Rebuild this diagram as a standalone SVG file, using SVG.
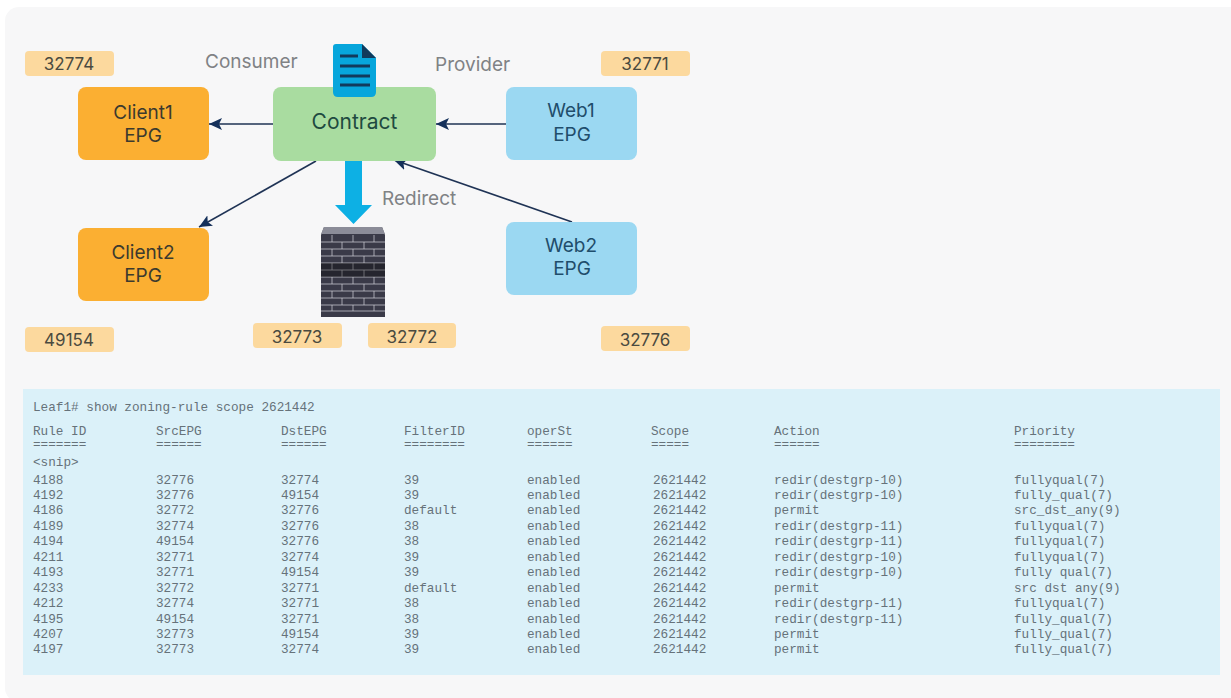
<svg xmlns="http://www.w3.org/2000/svg" width="1231" height="698" viewBox="0 0 1231 698">
<style>
.box{stroke:none}
.or{fill:#fbaf32}
.bl{fill:#9bd8f2}
.tag{fill:#fcd99e}
.sans{font-family:"Inter","Liberation Sans",sans-serif}
.n{font-size:19px;text-anchor:middle;fill:#3c3a2e}
.nb{font-size:19px;text-anchor:middle;fill:#1f4d6b}
.t{font-size:17px;text-anchor:middle;fill:#4a4a40}
.l{font-size:19px;fill:#808285}
.m{font-family:"Liberation Mono",monospace;font-size:12.7px;fill:#66727a}
.ln{stroke:#1f3355;stroke-width:1.6;fill:none;marker-end:url(#a)}
</style>
<defs>
<marker id="a" markerUnits="userSpaceOnUse" markerWidth="14" markerHeight="12" refX="13" refY="6" orient="auto"><path d="M0,0L13,6L0,12L3,6Z" fill="#14305a"/></marker>
</defs>
<rect width="1231" height="698" fill="#ffffff"/>
<rect x="5" y="7" width="1240" height="695" rx="14" fill="#f7f7f8"/>
<g id="table">
<rect x="23" y="389" width="1197" height="286" fill="#dbf1f9"/>
<text class="m" x="33" y="410.500">Leaf1# show zoning-rule scope 2621442</text>
<g class="m">
<text x="33" y="435">Rule ID</text><text x="156" y="435">SrcEPG</text><text x="281" y="435">DstEPG</text><text x="404" y="435">FilterID</text><text x="527" y="435">operSt</text><text x="651" y="435">Scope</text><text x="774" y="435">Action</text><text x="1014" y="435">Priority</text>
<text x="33" y="448">=======</text><text x="156" y="448">======</text><text x="281" y="448">======</text><text x="404" y="448">========</text><text x="527" y="448">======</text><text x="651" y="448">=====</text><text x="774" y="448">======</text><text x="1014" y="448">========</text>
<text x="33" y="466">&lt;snip&gt;</text>
<text x="33" y="484">4188</text><text x="156" y="484">32776</text><text x="281" y="484">32774</text><text x="404" y="484">39</text><text x="527" y="484">enabled</text><text x="653" y="484">2621442</text><text x="774" y="484">redir(destgrp-10)</text><text x="1014" y="484">fullyqual(7)</text>
<text x="33" y="499">4192</text><text x="156" y="499">32776</text><text x="281" y="499">49154</text><text x="404" y="499">39</text><text x="527" y="499">enabled</text><text x="653" y="499">2621442</text><text x="774" y="499">redir(destgrp-10)</text><text x="1014" y="499">fully_qual(7)</text>
<text x="33" y="514">4186</text><text x="156" y="514">32772</text><text x="281" y="514">32776</text><text x="404" y="514">default</text><text x="527" y="514">enabled</text><text x="653" y="514">2621442</text><text x="774" y="514">permit</text><text x="1014" y="514">src_dst_any(9)</text>
<text x="33" y="530">4189</text><text x="156" y="530">32774</text><text x="281" y="530">32776</text><text x="404" y="530">38</text><text x="527" y="530">enabled</text><text x="653" y="530">2621442</text><text x="774" y="530">redir(destgrp-11)</text><text x="1014" y="530">fullyqual(7)</text>
<text x="33" y="545">4194</text><text x="156" y="545">49154</text><text x="281" y="545">32776</text><text x="404" y="545">38</text><text x="527" y="545">enabled</text><text x="653" y="545">2621442</text><text x="774" y="545">redir(destgrp-11)</text><text x="1014" y="545">fullyqual(7)</text>
<text x="33" y="561">4211</text><text x="156" y="561">32771</text><text x="281" y="561">32774</text><text x="404" y="561">39</text><text x="527" y="561">enabled</text><text x="653" y="561">2621442</text><text x="774" y="561">redir(destgrp-10)</text><text x="1014" y="561">fullyqual(7)</text>
<text x="33" y="576">4193</text><text x="156" y="576">32771</text><text x="281" y="576">49154</text><text x="404" y="576">39</text><text x="527" y="576">enabled</text><text x="653" y="576">2621442</text><text x="774" y="576">redir(destgrp-10)</text><text x="1014" y="576">fully qual(7)</text>
<text x="33" y="592">4233</text><text x="156" y="592">32772</text><text x="281" y="592">32771</text><text x="404" y="592">default</text><text x="527" y="592">enabled</text><text x="653" y="592">2621442</text><text x="774" y="592">permit</text><text x="1014" y="592">src dst any(9)</text>
<text x="33" y="607">4212</text><text x="156" y="607">32774</text><text x="281" y="607">32771</text><text x="404" y="607">38</text><text x="527" y="607">enabled</text><text x="653" y="607">2621442</text><text x="774" y="607">redir(destgrp-11)</text><text x="1014" y="607">fullyqual(7)</text>
<text x="33" y="623">4195</text><text x="156" y="623">49154</text><text x="281" y="623">32771</text><text x="404" y="623">38</text><text x="527" y="623">enabled</text><text x="653" y="623">2621442</text><text x="774" y="623">redir(destgrp-11)</text><text x="1014" y="623">fully_qual(7)</text>
<text x="33" y="638">4207</text><text x="156" y="638">32773</text><text x="281" y="638">49154</text><text x="404" y="638">39</text><text x="527" y="638">enabled</text><text x="653" y="638">2621442</text><text x="774" y="638">permit</text><text x="1014" y="638">fully_qual(7)</text>
<text x="33" y="653">4197</text><text x="156" y="653">32773</text><text x="281" y="653">32774</text><text x="404" y="653">39</text><text x="527" y="653">enabled</text><text x="653" y="653">2621442</text><text x="774" y="653">permit</text><text x="1014" y="653">fully_qual(7)</text>
</g>
</g>
<g id="connectors">
<path class="ln" d="M274,124H209"/>
<path class="ln" d="M316,161L199,227"/>
<path class="ln" d="M506,124H436"/>
<path class="ln" d="M572,222L394,160"/>
<path d="M345,160H362V205H372L353.500,224L335,205H345Z" fill="#0db0e4"/>
</g>
<g id="client1"><rect class="box or" x="78" y="87" width="131" height="73" rx="8"/><text class="sans n" x="143" y="119">Client1</text><text class="sans n" x="143" y="142">EPG</text></g>
<g id="client2"><rect class="box or" x="78" y="228" width="131" height="73" rx="8"/><text class="sans n" x="143" y="259">Client2</text><text class="sans n" x="143" y="282">EPG</text></g>
<g id="contract"><rect class="box" x="273" y="87" width="163" height="74" rx="8" fill="#a9dca0"/><text class="sans" x="354.500" y="129" font-size="21" text-anchor="middle" fill="#1f4a40">Contract</text></g>
<g id="web1"><rect class="box bl" x="506" y="87" width="131" height="73" rx="8"/><text class="sans nb" x="571" y="117">Web1</text><text class="sans nb" x="572" y="141">EPG</text></g>
<g id="web2"><rect class="box bl" x="506" y="222" width="131" height="73" rx="8"/><text class="sans nb" x="571" y="252">Web2</text><text class="sans nb" x="572" y="275">EPG</text></g>
<g id="document">
<path d="M336,44H362L376,58V92Q376,97 371,97H338Q333,97 333,92V47Q333,44 336,44Z" fill="#07a6dc"/>
<path d="M362,44L376,58H362Z" fill="#123a5c"/>
<path d="M340,56H358M340,66H370M340,76H370M340,85H370" stroke="#123a5c" stroke-width="3" fill="none"/>
</g>
<g id="firewall">
<path d="M321,235L324,227H382L385,235V317H321Z" fill="#3a3a48"/>
<path d="M324,227H382L385,234H321Z" fill="#8b8c98"/>
<path d="M321,242H385M321,249H385M321,256H385M321,263H385M321,270H385M321,277H385M321,284H385M321,291H385M321,298H385M321,305H385M321,311H385" stroke="#c9cad2" stroke-width="1" opacity=".75" fill="none"/>
<path d="M332,235V242M353,235V242M374,235V242M342,242V249M364,242V249M332,249V256M353,249V256M374,249V256M342,256V263M364,256V263M332,263V270M353,263V270M374,263V270M342,270V277M364,270V277M332,277V284M353,277V284M374,277V284M342,284V291M364,284V291M332,291V298M353,291V298M374,291V298M342,298V305M364,298V305M332,305V311M353,305V311M374,305V311" stroke="#c9cad2" stroke-width="1" opacity=".75" fill="none"/>
<rect x="321" y="263" width="64" height="14" fill="#000" opacity=".35"/>
</g>
<g id="tag-32774"><rect class="tag" x="25" y="51" width="89" height="25" rx="4"/><text class="sans t" x="69" y="70">32774</text></g>
<g id="tag-49154"><rect class="tag" x="25" y="327" width="89" height="25" rx="4"/><text class="sans t" x="69" y="346">49154</text></g>
<g id="tag-32773"><rect class="tag" x="253" y="323" width="89" height="25" rx="4"/><text class="sans t" x="297" y="343">32773</text></g>
<g id="tag-32772"><rect class="tag" x="368" y="323" width="88" height="25" rx="4"/><text class="sans t" x="412" y="343">32772</text></g>
<g id="tag-32771"><rect class="tag" x="601" y="51" width="89" height="25" rx="4"/><text class="sans t" x="645" y="70">32771</text></g>
<g id="tag-32776"><rect class="tag" x="601" y="326" width="89" height="25" rx="4"/><text class="sans t" x="645" y="346">32776</text></g>
<text class="sans l" x="205" y="68">Consumer</text>
<text class="sans l" x="435" y="71">Provider</text>
<text class="sans l" x="382" y="205">Redirect</text>
</svg>
